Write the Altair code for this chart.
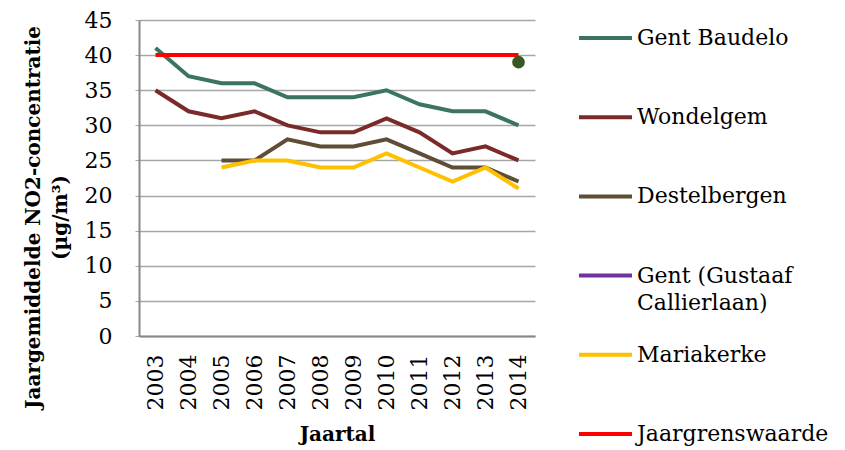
import altair as alt
import pandas as pd

years = [str(y) for y in range(2003, 2015)]
gent_baudelo = [41, 37, 36, 36, 34, 34, 34, 35, 33, 32, 32, 30]
wondelgem = [35, 32, 31, 32, 30, 29, 29, 31, 29, 26, 27, 25]
destelbergen = [None, None, 25, 25, 28, 27, 27, 28, 26, 24, 24, 22]
mariakerke = [None, None, 24, 25, 25, 24, 24, 26, 24, 22, 24, 21]
gustaaf = [None] * 11 + [39]
grenswaarde = [40] * 12

series_names = ["Gent Baudelo", "Wondelgem", "Destelbergen",
                "Gent (Gustaaf Callierlaan)", "Mariakerke", "Jaargrenswaarde"]
label_line1 = ["Gent Baudelo", "Wondelgem", "Destelbergen",
               "Gent (Gustaaf", "Mariakerke", "Jaargrenswaarde"]
label_line2 = ["", "", "", "Callierlaan)", "", ""]
colors = ["#3B7464", "#7B2A2A", "#5F4D36", "#7030A0", "#FFC000", "#FF0000"]
point_color = "#385723"

FONT = "DejaVu Serif"

rows = []
for name, vals in zip(series_names, [gent_baudelo, wondelgem, destelbergen, gustaaf, mariakerke, grenswaarde]):
    for y, v in zip(years, vals):
        if v is not None:
            rows.append({"series": name, "year": y, "value": v})
df = pd.DataFrame(rows)

x_enc = alt.X("year:O", scale=alt.Scale(domain=years, type="point", padding=0.5),
              axis=alt.Axis(title="Jaartal", labelAngle=-90, ticks=False, grid=False,
                            domainColor="#888888", domainWidth=2,
                            labelFontSize=22, labelFont=FONT, labelColor="black",
                            labelPadding=18, labelBaseline="middle",
                            titleFont=FONT, titleFontSize=20, titleFontWeight="bold",
                            titleColor="black", titlePadding=15))
y_enc = alt.Y("value:Q", scale=alt.Scale(domain=[0, 45], nice=False),
              axis=alt.Axis(title=["Jaargemiddelde NO2-concentratie", "(µg/m³)"],
                            values=list(range(0, 46, 5)), grid=True,
                            gridColor="#A6A6A6", gridWidth=1.5,
                            domainColor="#888888", domainWidth=2,
                            tickColor="#A6A6A6", tickSize=4,
                            labelFontSize=22, labelFont=FONT, labelColor="black",
                            labelPadding=23,
                            titleFont=FONT, titleFontSize=20, titleFontWeight="bold",
                            titleColor="black", titlePadding=14, titleLineHeight=27,
                            titleY=197))

base = alt.Chart(df).encode(x=x_enc, y=y_enc)

layers = []
for name, col in zip(series_names, colors):
    if name == "Gent (Gustaaf Callierlaan)":
        continue
    layers.append(base.transform_filter(alt.datum.series == name)
                  .mark_line(color=col, strokeWidth=4))
layers.append(base.transform_filter(alt.datum.series == "Gent (Gustaaf Callierlaan)")
              .mark_point(filled=True, color=point_color, size=160, opacity=1))

main = alt.layer(*layers).properties(width=396, height=316)

leg_df = pd.DataFrame({"series": series_names, "line1": label_line1,
                       "line2": label_line2, "color": colors})
ly = alt.Y("series:N", scale=alt.Scale(domain=series_names, type="point",
                                        range=[18, 414], padding=0), axis=None)
leg_base = alt.Chart(leg_df).encode(y=ly)
leg_rule = leg_base.mark_rule(strokeWidth=4).encode(
    x=alt.value(0), x2=alt.value(53),
    color=alt.Color("series:N", scale=alt.Scale(domain=series_names, range=colors), legend=None))
leg_t1 = leg_base.mark_text(align="left", baseline="middle", font=FONT, fontSize=22,
                            color="black").encode(x=alt.value(58), text="line1:N")
leg_t2 = leg_base.mark_text(align="left", baseline="middle", font=FONT, fontSize=22,
                            color="black", dy=27).encode(x=alt.value(58), text="line2:N")
legend = alt.layer(leg_rule, leg_t1, leg_t2).properties(width=240, height=420)

chart = alt.hconcat(main, legend, spacing=42).properties(
    padding={"left": 15, "top": 1, "right": 5, "bottom": 0},
    background="white"
).configure_view(stroke=None)

chart.save("out.html", embed_options={"renderer": "svg", "actions": False})
